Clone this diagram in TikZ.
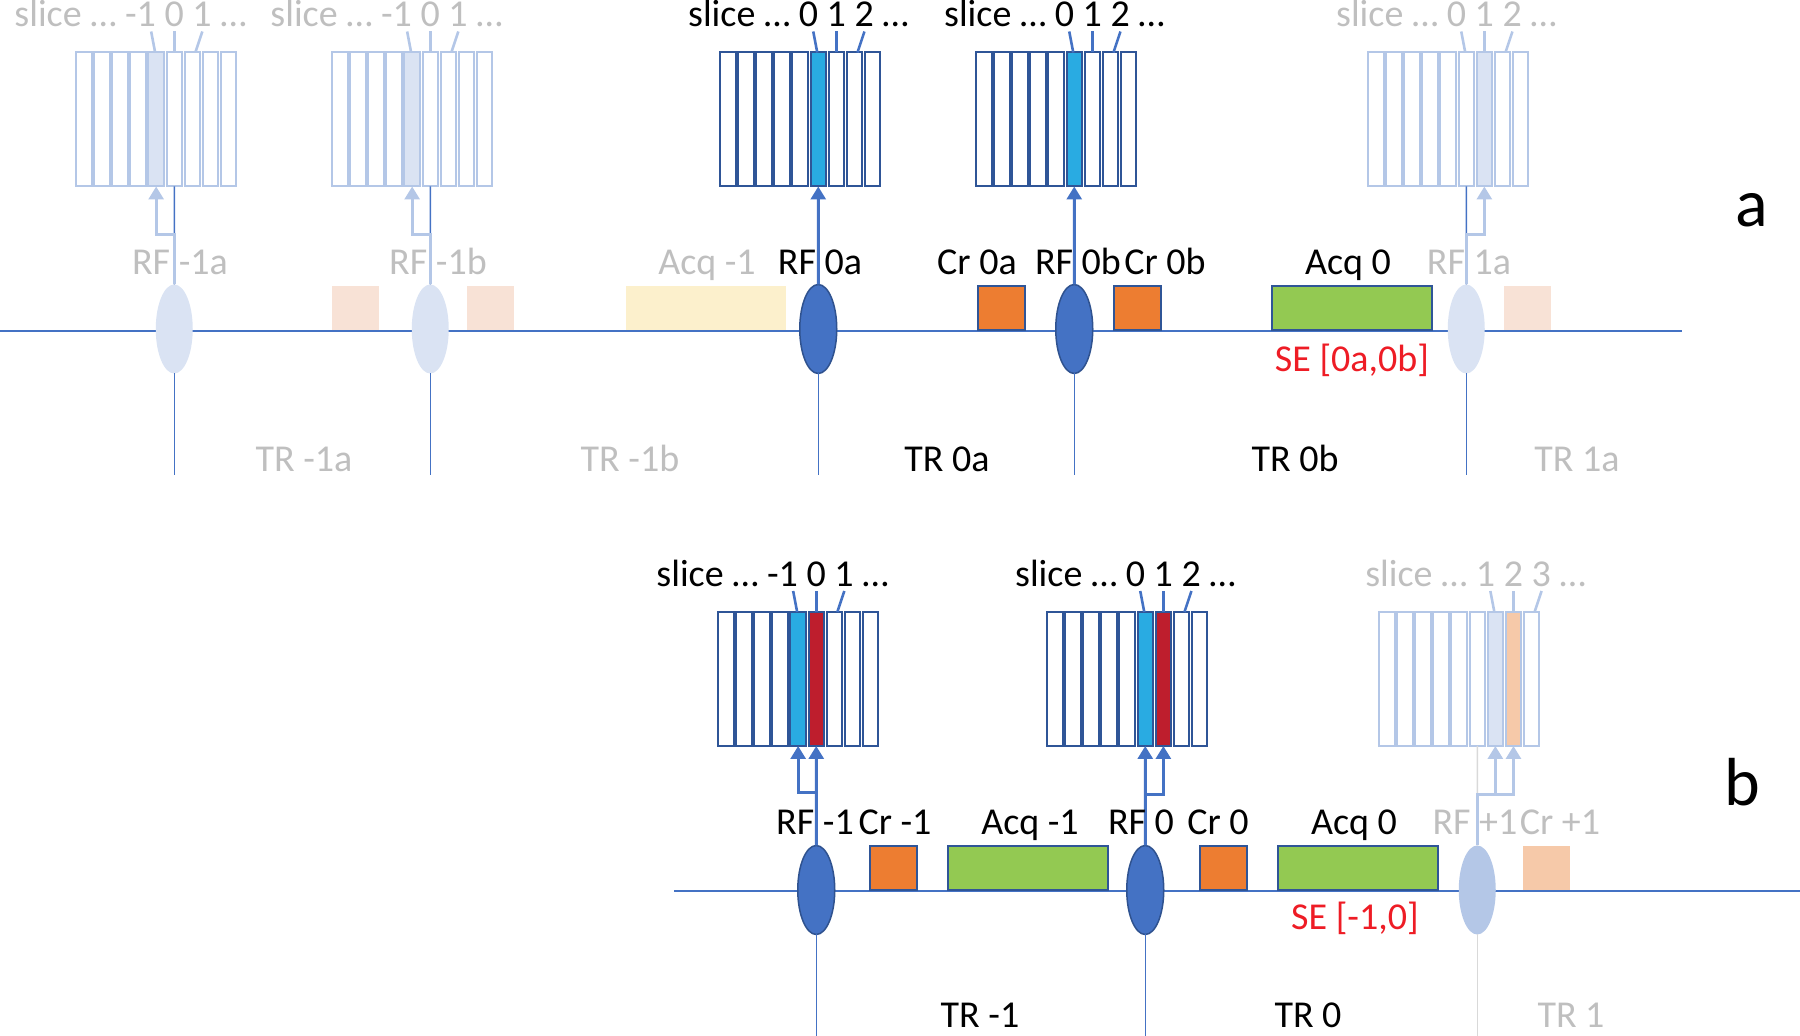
\documentclass[tikz,border=0pt]{standalone}
\usepackage{fontspec}
\setmainfont{Carlito}
\usetikzlibrary{shapes.geometric,arrows.meta}
\definecolor{lblue}{HTML}{4472C4}
\definecolor{dblue}{HTML}{2F5597}
\definecolor{eborder}{HTML}{2F528F}
\definecolor{fline}{HTML}{B4C7E7}
\definecolor{ffill}{HTML}{DAE3F3}
\definecolor{gtext}{HTML}{BFBFBF}
\definecolor{pinkf}{HTML}{F8E2D6}
\definecolor{yellowf}{HTML}{FCF0CC}
\definecolor{peach}{HTML}{F6C9A9}
\definecolor{grn}{HTML}{93C952}
\definecolor{orng}{HTML}{ED7D31}
\definecolor{cyanh}{HTML}{29ABE2}
\definecolor{redh}{HTML}{BE1E2D}
\definecolor{redt}{HTML}{EE1C25}
\definecolor{lgray}{HTML}{D9D9D9}
\newcommand{\slblk}[8]{%
  \foreach \i in {0,...,8}{%
    \ifnum\i=#5\relax \def\slfc{#6}\else\ifnum\i=#7\relax \def\slfc{#8}\else \def\slfc{white}\fi\fi
    \node[#4, fill=\slfc] (#1-\i) at ({#2+18.1*\i},#3) {};
  }}
\newcommand{\slticks}[5]{%
  \draw[#5] ([xshift=-0.5pt]#1-#2.north) -- ++(-4,-21);
  \draw[#5] (#1-#3.north) -- ++(0,-21);
  \draw[#5] ([xshift=1.5pt]#1-#4.north) -- ++(7,-21);}
\begin{document}
\begin{tikzpicture}[x=0.5pt,y=-0.5pt,
  txt/.style={font=\fontsize{19}{22}\selectfont, inner sep=0, anchor=base},
  gtxt/.style={txt, text=gtext},
  rtxt/.style={txt, text=redt},
  big/.style={font=\fontsize{34}{40}\selectfont, inner sep=0, anchor=base},
  slbox/.style={draw=dblue, line width=1pt, minimum width=7.75pt, minimum height=67pt, inner sep=0, outer sep=0, anchor=north west},
  fslbox/.style={slbox, draw=fline},
  tline/.style={draw=lblue, line width=0.75pt},
  gline/.style={draw=lgray, line width=0.75pt},
  tick/.style={draw=lblue, line width=1.3pt},
  ftick/.style={draw=fline, line width=1.3pt},
  arr/.style={draw=lblue, line width=1.5pt, -{Triangle[width=7.5pt,length=6.5pt]}},
  farr/.style={arr, draw=fline},
  rf/.style={ellipse, fill=lblue, draw=eborder, line width=0.75pt, minimum width=18.5pt, minimum height=44.5pt, inner sep=0, outer sep=0},
  frf/.style={rf, fill=ffill, draw=none},
  crbox/.style={draw=dblue, line width=1pt, fill=orng, minimum width=23.5pt, minimum height=22pt, inner sep=0, outer sep=0, anchor=south west},
  acqbox/.style={crbox, fill=grn, minimum width=80pt},
  fbox/.style={crbox, draw=none}
]
\useasboundingbox (0,0) rectangle (1800,1036);

% timelines
\coordinate (ta0) at (0,331); \coordinate (ta1) at (1682,331);
\draw[tline] (ta0) -- (ta1);
\coordinate (tb0) at (674,891); \coordinate (tb1) at (1800,891);
\draw[tline] (tb0) -- (tb1);

% boxes a
\node[fbox, fill=pinkf] (pa1) at (332,330) {};
\node[fbox, fill=pinkf] (pa2) at (467,330) {};
\node[fbox, fill=yellowf, minimum width=80pt] (qa0) at (626,330) {};
\node[crbox] (ca1) at (978,330) {};
\node[crbox] (ca2) at (1114,330) {};
\node[acqbox] (qa1) at (1272,330) {};
\node[fbox, fill=pinkf] (pa3) at (1504,330) {};
% boxes b
\node[crbox] (cb1) at (870,890) {};
\node[acqbox] (qb1) at (948,890) {};
\node[crbox] (cb2) at (1200,890) {};
\node[acqbox] (qb2) at (1278,890) {};
\node[fbox, fill=peach] (pb3) at (1523,890) {};

% ellipses
\node[frf] (E1) at (174.25,329) {};
\node[frf] (E2) at (430.25,329) {};
\node[rf] (E3) at (818.25,329) {};
\node[rf] (E4) at (1074.25,329) {};
\node[frf] (E5) at (1466.25,329) {};
\node[rf] (E6) at (816.25,890) {};
\node[rf] (E7) at (1145.25,890) {};
\node[frf, fill=fline] (E8) at (1477.25,890) {};

% slice blocks
\slblk{B1}{76}{52.5}{fslbox}{4}{ffill}{-1}{white}
\slblk{B2}{332}{52.5}{fslbox}{4}{ffill}{-1}{white}
\slblk{B3}{720}{52.5}{slbox}{5}{cyanh}{-1}{white}
\slblk{B4}{976}{52.5}{slbox}{5}{cyanh}{-1}{white}
\slblk{B5}{1368}{52.5}{fslbox}{6}{ffill}{-1}{white}
\slblk{B6}{718}{612}{slbox}{4}{cyanh}{5}{redh}
\slblk{B7}{1047}{612}{slbox}{5}{cyanh}{6}{redh}
\slblk{B8}{1379}{612}{fslbox}{6}{ffill}{7}{peach}

% ticks
\slticks{B1}{4}{5}{6}{ftick}
\slticks{B2}{4}{5}{6}{ftick}
\slticks{B3}{5}{6}{7}{tick}
\slticks{B4}{5}{6}{7}{tick}
\slticks{B5}{5}{6}{7}{ftick}
\slticks{B6}{4}{5}{6}{tick}
\slticks{B7}{5}{6}{7}{tick}
\slticks{B8}{6}{7}{8}{ftick}

% vertical lines a
\foreach \e in {E1,E2,E3,E4,E5}{\draw[tline] (\e.south) -- (\e.south |- 0,475);}
\draw[tline] (B1-5.south) -- (E1.north);
\draw[tline] (B2-5.south) -- (E2.north);
\draw[tline] (B5-5.south) -- (E5.north);
% vertical lines b
\draw[tline] (E6.south) -- (E6.south |- 0,1036);
\draw[tline] (E7.south) -- (E7.south |- 0,1036);
\draw[gline] (B8-5.south) -- (E8.north);
\draw[gline] (E8.south) -- (E8.south |- 0,1036);

% arrows a
\draw[farr] (E1.north) -- (E1.north |- 0,235) -| (B1-4.south);
\draw[farr] (E2.north) -- (E2.north |- 0,235) -| (B2-4.south);
\draw[arr] (E3.north) -- (B3-5.south);
\draw[arr] (E4.north) -- (B4-5.south);
\draw[farr] (E5.north) -- (E5.north |- 0,235) -| (B5-6.south);
% arrows b
\draw[arr] (E6.north) -- (B6-5.south);
\draw[arr] (E6.north |- 0,793) -| (B6-4.south);
\draw[arr] (E7.north) -- (B7-5.south);
\draw[arr] (E7.north |- 0,795) -| (B7-6.south);
\draw[farr] (E8.north) -- (E8.north |- 0,795) -| (B8-7.south);
\draw[farr] (B8-6.south |- 0,795) -- (B8-6.south);

% slice labels
\node[gtxt] (L1) at (B1-5.north |- 0,27) {\llap{slice … -1 }0\rlap{ 1 …}};
\node[gtxt] (L2) at (B2-5.north |- 0,27) {\llap{slice … -1 }0\rlap{ 1 …}};
\node[txt] (L3) at (B3-6.north |- 0,27) {\llap{slice … 0 }1\rlap{ 2 …}};
\node[txt] (L4) at (B4-6.north |- 0,27) {\llap{slice … 0 }1\rlap{ 2 …}};
\node[gtxt] (L5) at (B5-6.north |- 0,27) {\llap{slice … 0 }1\rlap{ 2 …}};
\node[txt] (L6) at (B6-5.north |- 0,587) {\llap{slice … -1 }0\rlap{ 1 …}};
\node[txt] (L7) at (B7-6.north |- 0,587) {\llap{slice … 0 }1\rlap{ 2 …}};
\node[gtxt] (L8) at (B8-7.north |- 0,587) {\llap{slice … 1 }2\rlap{ 3 …}};

% labels a
\node[gtxt] (t1) at (180,275) {RF -1a};
\node[gtxt] (t2) at (438,275) {RF -1b};
\node[gtxt] (t3) at (707,275) {Acq -1};
\node[txt] (t4) at (820,275) {RF 0a};
\node[txt] (t5) at (977,275) {Cr 0a};
\node[txt] (t6) at (1078,275) {RF 0b};
\node[txt] (t7) at (1165,275) {Cr 0b};
\node[txt] (t8) at (1348,275) {Acq 0};
\node[gtxt] (t9) at (1469,275) {RF 1a};
\node[rtxt] (se1) at (1352,372) {SE [0a,0b]};
\node[gtxt] (tr1) at (304,472) {TR -1a};
\node[gtxt] (tr2) at (630,472) {TR -1b};
\node[txt] (tr3) at (947,472) {TR 0a};
\node[txt] (tr4) at (1295,472) {TR 0b};
\node[gtxt] (tr5) at (1577,472) {TR 1a};
\node[big] (la) at (1752,227) {a};

% labels b
\node[txt] (u1) at (815,835) {RF -1};
\node[txt] (u2) at (895,835) {Cr -1};
\node[txt] (u3) at (1030,835) {Acq -1};
\node[txt] (u4) at (1141,835) {RF 0};
\node[txt] (u5) at (1218,835) {Cr 0};
\node[txt] (u6) at (1354,835) {Acq 0};
\node[gtxt] (u7) at (1475,835) {RF +1};
\node[gtxt] (u8) at (1560,835) {Cr +1};
\node[rtxt] (se2) at (1355,930) {SE [-1,0]};
\node[txt] (ur1) at (980,1028) {TR -1};
\node[txt] (ur2) at (1308,1028) {TR 0};
\node[gtxt] (ur3) at (1571,1028) {TR 1};
\node[big] (lb) at (1742,806) {b};
\end{tikzpicture}
\end{document}
